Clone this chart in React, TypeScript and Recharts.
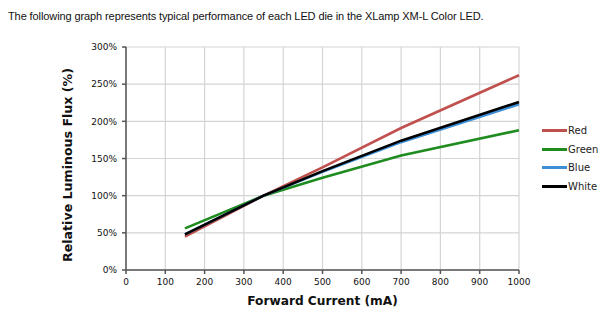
import React from 'react'
import { LineChart, Line, XAxis, YAxis, CartesianGrid, Legend, Label } from 'recharts'

// forward current (mA) and relative flux (%) per die, normalised at 350 mA
const currents = [150, 350, 500, 700, 1000]
const red = [45, 100, 138, 191, 262]
const green = [56, 100, 124, 154, 188]
const blue = [48, 100, 132, 172, 223]
const white = [48, 100, 133, 174, 226]

const xTicks = [0, 100, 200, 300, 400, 500, 600, 700, 800, 900, 1000]
const yTicks = [0, 50, 100, 150, 200, 250, 300]

const series = [
  { key: 'Red', values: red, color: '#c0504d' },
  { key: 'Green', values: green, color: '#1f8c1f' },
  { key: 'Blue', values: blue, color: '#3d8fd6' },
  { key: 'White', values: white, color: '#000000' },
]

const data = currents.map((c, i) => {
  const row: Record<string, number> = { current: c }
  series.forEach((s) => (row[s.key] = s.values[i]))
  return row
})

const font = '"DejaVu Sans", Verdana, sans-serif'
const order = series.map((s) => s.key)

function LegendBox({ payload }: any) {
  const items = [...(payload || [])].sort((a: any, b: any) => order.indexOf(a.value) - order.indexOf(b.value))
  return (
    <div style={{ fontFamily: font, fontSize: 10, color: '#222' }}>
      {items.map((p: any) => (
        <div key={p.value} style={{ display: 'flex', alignItems: 'center', height: 18.7 }}>
          <span style={{ display: 'inline-block', width: 25, height: 3, background: p.color }} />
          <span style={{ marginLeft: 1 }}>{p.value}</span>
        </div>
      ))}
    </div>
  )
}

export default function App() {
  return (
    <div style={{ position: 'absolute', left: 0, top: 0, width: 600, height: 330, background: '#fff' }}>
      <div
        style={{
          position: 'absolute',
          left: 8,
          top: 10,
          fontFamily: '"Liberation Sans", Arial, sans-serif',
          fontSize: 11,
          letterSpacing: -0.1,
          color: '#111',
          whiteSpace: 'nowrap',
        }}
      >
        The following graph represents typical performance of each LED die in the XLamp XM-L Color LED.
      </div>
      <LineChart
        width={600}
        height={330}
        data={data}
        margin={{ top: 47, right: 81, bottom: 15, left: 66 }}
        style={{ position: 'absolute', left: 0, top: 0 }}
      >
        <CartesianGrid stroke="#d4d4d4" strokeWidth={1.2} />
        <XAxis
          dataKey="current"
          type="number"
          domain={[0, 1000]}
          ticks={xTicks}
          height={45}
          interval={0}
          stroke="#555"
          strokeWidth={1.5}
          tickSize={4}
          tick={{ fill: '#111', fontSize: 9, fontFamily: font, dy: 3 }}
        >
          <Label
            content={({ viewBox }: any) => (
              <text
                x={viewBox.x + viewBox.width / 2}
                y={viewBox.y + 31}
                textAnchor="middle"
                dominantBaseline="central"
                fontFamily={font}
                fontWeight="bold"
                fontSize={12.2}
                fill="#111"
              >
                Forward Current (mA)
              </text>
            )}
          />
        </XAxis>
        <YAxis
          type="number"
          domain={[0, 300]}
          ticks={yTicks}
          width={60}
          interval={0}
          stroke="#555"
          strokeWidth={1.5}
          tickSize={4}
          tickFormatter={(v) => `${v}%`}
          tick={{ fill: '#111', fontSize: 9, fontFamily: font, dx: -3 }}
        >
          <Label
            content={({ viewBox }: any) => {
              const cx = viewBox.x + 1
              const cy = viewBox.y + viewBox.height / 2 + 6.5
              return (
                <text
                  x={cx}
                  y={cy}
                  transform={`rotate(-90 ${cx} ${cy})`}
                  textAnchor="middle"
                  dominantBaseline="central"
                  fontFamily={font}
                  fontWeight="bold"
                  fontSize={12.6}
                  fill="#111"
                >
                  Relative Luminous Flux (%)
                </text>
              )
            }}
          />
        </YAxis>
        <Legend
          layout="horizontal"
          verticalAlign="middle"
          content={<LegendBox />}
          wrapperStyle={{ left: 542, top: 121, width: 60 }}
        />
        {series.map((s) => (
          <Line
            key={s.key}
            dataKey={s.key}
            name={s.key}
            stroke={s.color}
            strokeWidth={2.6}
            dot={false}
            type="linear"
            isAnimationActive={false}
          />
        ))}
      </LineChart>
    </div>
  )
}
